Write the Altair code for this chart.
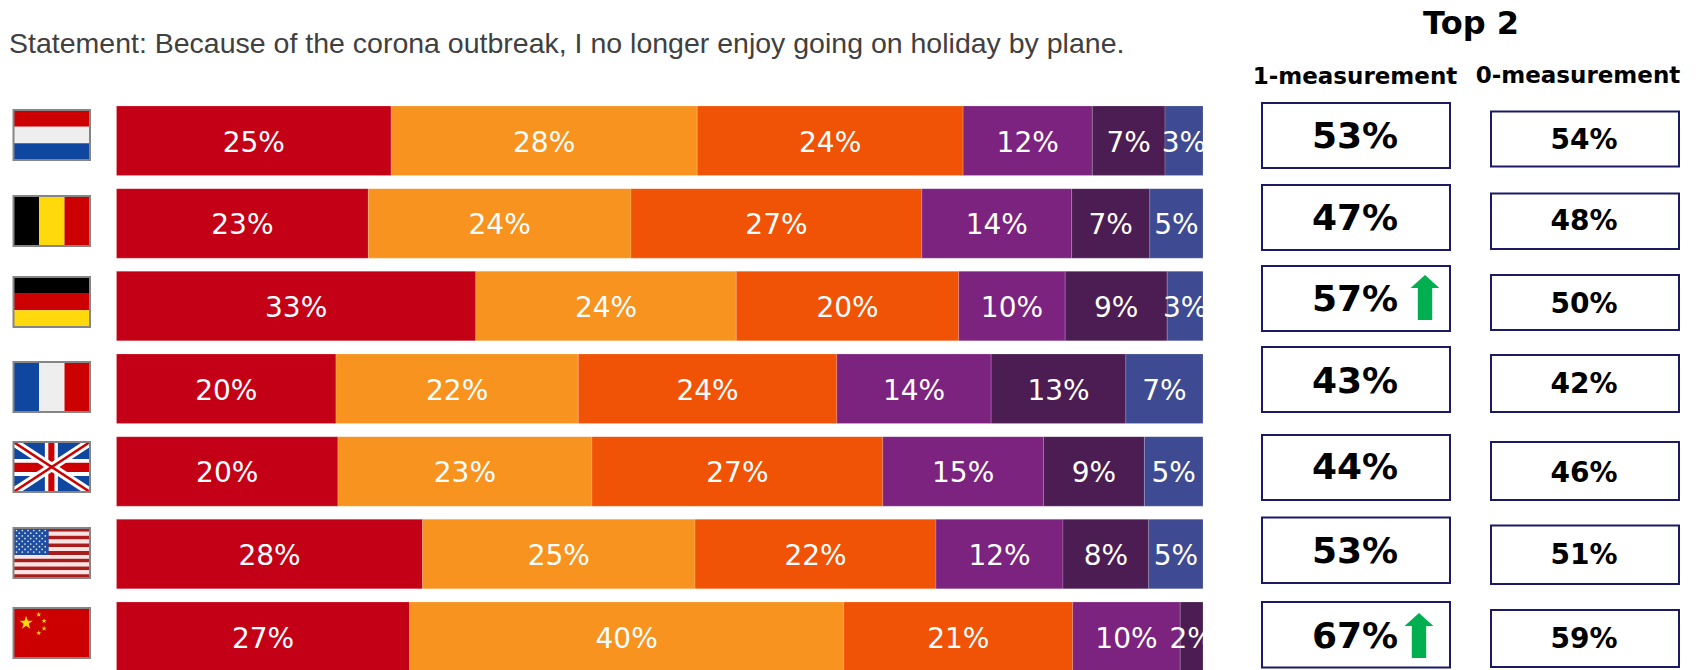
import altair as alt
import pandas as pd

# ---- data ----
countries = ["NL", "BE", "DE", "FR", "UK", "US", "CN"]
seg_colors = ["#C40016", "#F7931E", "#F15306", "#7B237F", "#4B1D52", "#3E4A92"]
shares = [
    [25.3, 28.2, 24.5, 11.9, 6.7, 3.5],
    [23.2, 24.2, 26.8, 13.8, 7.2, 4.9],
    [33.1, 24.0, 20.5, 9.8, 9.4, 3.3],
    [20.2, 22.3, 23.8, 14.2, 12.4, 7.1],
    [20.4, 23.4, 26.8, 14.8, 9.3, 5.4],
    [28.2, 25.1, 22.2, 11.7, 7.9, 5.0],
    [27.0, 40.0, 21.1, 9.9, 2.1],
]
labels = [
    ["25%", "28%", "24%", "12%", "7%", "3%"],
    ["23%", "24%", "27%", "14%", "7%", "5%"],
    ["33%", "24%", "20%", "10%", "9%", "3%"],
    ["20%", "22%", "24%", "14%", "13%", "7%"],
    ["20%", "23%", "27%", "15%", "9%", "5%"],
    ["28%", "25%", "22%", "12%", "8%", "5%"],
    ["27%", "40%", "21%", "10%", "2%"],
]
top2_now = ["53%", "47%", "57%", "43%", "44%", "53%", "67%"]
top2_base = ["54%", "48%", "50%", "42%", "46%", "51%", "59%"]
arrows = ["DE", "CN"]
statement = "Statement: Because of the corona outbreak, I no longer enjoy going on holiday by plane."

# ---- layout (page pixels -> scale units) ----
BAR_L, BAR_R, BAR_T, PITCH, BAR_H = 116.5, 1203.0, 106.0, 82.67, 69.5
def ux(px): return (px - BAR_L) / (BAR_R - BAR_L) * 100
def uy(px): return (px - BAR_T) / PITCH

box1_y = [(103, 168), (185, 250), (266, 331), (347, 412), (435, 500), (517.5, 583), (602, 667.5)]
box0_y = [(111.5, 166.5), (193.5, 249), (275, 330), (355, 412), (442, 500), (525.5, 584), (610, 667)]
text1_y = [137, 219, 299.5, 382, 468, 551.5, 637]
text0_y = [140.5, 221.5, 305, 385, 473.5, 556, 640]
flag_y = [110, 196, 277, 362, 442, 528, 608]
FLAG_L, FLAG_W, FLAG_H = 13.5, 76.5, 50.0

x_scale = alt.Scale(domain=[0, 100], range=[BAR_L - 8, BAR_R - 8])
y_scale = alt.Scale(domain=[0, 7], range=[BAR_T - 8, BAR_T - 8 + 7 * PITCH])
X = lambda f: alt.X(f + ":Q", scale=x_scale, axis=None)
Y = lambda f: alt.Y(f + ":Q", scale=y_scale, axis=None)
COL = alt.Color("c:N", scale=None)

# ---- stacked bars ----
seg_rows, txt_rows = [], []
for i, (vals, labs) in enumerate(zip(shares, labels)):
    total, acc = sum(vals), 0.0
    for j, (v, lab) in enumerate(zip(vals, labs)):
        a, b = acc / total * 100, (acc + v) / total * 100
        seg_rows.append(dict(x0=a, x1=b, y0=i, y1=i + BAR_H / PITCH, c=seg_colors[j]))
        txt_rows.append(dict(x=(a + b) / 2, y=uy(BAR_T + i * PITCH + BAR_H / 2 + 3), t=lab))
        acc += v

bars = alt.Chart(pd.DataFrame(seg_rows)).mark_rect(stroke="#FFFFFF", strokeOpacity=0.25, strokeWidth=0.7).encode(
    x=X("x0"), x2="x1:Q", y=Y("y0"), y2="y1:Q", color=COL)
bar_text = alt.Chart(pd.DataFrame(txt_rows)).mark_text(
    font="DejaVu Sans", fontSize=28, color="#FFFFFF", align="center", baseline="middle"
).encode(x=X("x"), y=Y("y"), text="t:N")
# white strip hides the label overhang past the end of the bars, as in the reference
mask = alt.Chart(pd.DataFrame([dict(x0=100, x1=ux(BAR_R + 25), y0=0, y1=7)])).mark_rect(color="#FFFFFF").encode(
    x=X("x0"), x2="x1:Q", y=Y("y0"), y2="y1:Q")

# ---- value boxes ----
box_rows, val_rows = [], []
for i in range(7):
    box_rows.append(dict(x0=ux(1262), x1=ux(1450), y0=uy(box1_y[i][0]), y1=uy(box1_y[i][1])))
    box_rows.append(dict(x0=ux(1491), x1=ux(1679), y0=uy(box0_y[i][0]), y1=uy(box0_y[i][1])))
    val_rows.append(dict(x=ux(1355), y=uy(text1_y[i]), t=top2_now[i], s=36))
    val_rows.append(dict(x=ux(1584), y=uy(text0_y[i]), t=top2_base[i], s=28))
boxes = alt.Chart(pd.DataFrame(box_rows)).mark_rect(fill="#FFFFFF", stroke="#1C1A66", strokeWidth=2).encode(
    x=X("x0"), x2="x1:Q", y=Y("y0"), y2="y1:Q")
values = alt.Chart(pd.DataFrame(val_rows)).mark_text(
    font="DejaVu Sans", fontWeight="bold", color="#000000", align="center", baseline="middle"
).encode(x=X("x"), y=Y("y"), text="t:N", size=alt.Size("s:Q", scale=None))

ARROW = "M0,-1 L0.64,-0.42 L0.32,-0.42 L0.32,1 L-0.32,1 L-0.32,-0.42 L-0.64,-0.42 Z"
arrow_pos = {"DE": (1425, 297.5), "CN": (1419, 635.5)}
arrow_df = pd.DataFrame([dict(x=ux(arrow_pos[k][0]), y=uy(arrow_pos[k][1])) for k in arrows])
arrow_marks = alt.Chart(arrow_df).mark_point(shape=ARROW, filled=True, color="#00B050", opacity=1, size=2025).encode(
    x=X("x"), y=Y("y"))

# ---- headings ----
head_rows = [
    dict(x=ux(1471), y=uy(24), t="Top 2", s=32),
    dict(x=ux(1355), y=uy(77), t="1-measurement", s=23),
    dict(x=ux(1578), y=uy(76), t="0-measurement", s=23),
]
heads = alt.Chart(pd.DataFrame(head_rows)).mark_text(
    font="DejaVu Sans", fontWeight="bold", color="#000000", align="center", baseline="middle"
).encode(x=X("x"), y=Y("y"), text="t:N", size=alt.Size("s:Q", scale=None))
title = alt.Chart(pd.DataFrame([dict(x=ux(9), y=uy(44), t=statement)])).mark_text(
    font="Liberation Sans", fontSize=28.5, color="#404040", align="left", baseline="middle"
).encode(x=X("x"), y=Y("y"), text="t:N")

# ---- flags, drawn in flag units (0..1 across and down) ----
RED, WHITE, BLUE, BLACK, GOLD = "#CC0000", "#EEEEEE", "#0F47A0", "#000000", "#FFD90C"
rects, areas, points = [], [], []
def fx(f): return ux(FLAG_L + f * FLAG_W)
def fy(i, f): return uy(flag_y[i] + f * FLAG_H)
def stripe(i, a, b, c, d, col):
    rects.append(dict(x0=fx(a), x1=fx(b), y0=fy(i, c), y1=fy(i, d), c=col))

for k, col in enumerate([RED, WHITE, BLUE]):
    stripe(0, 0, 1, k / 3, (k + 1) / 3, col)
for k, col in enumerate([BLACK, GOLD, RED]):
    stripe(1, k / 3, (k + 1) / 3, 0, 1, col)
for k, col in enumerate([BLACK, RED, GOLD]):
    stripe(2, 0, 1, k / 3, (k + 1) / 3, col)
for k, col in enumerate([BLUE, WHITE, RED]):
    stripe(3, k / 3, (k + 1) / 3, 0, 1, col)

# UK
stripe(4, 0, 1, 0, 1, BLUE)
def band(i, t, col, rising, bid):
    # diagonal band clipped to the flag, half-thickness t in flag-height units
    xs = sorted({0.0, t, 1 - t, 1.0})
    for f in xs:
        lo, hi = max(f - t, 0), min(f + t, 1)
        if rising:
            lo, hi = 1 - hi, 1 - lo
        areas.append(dict(x=fx(f), y0=fy(i, lo), y1=fy(i, hi), c=col, b=bid))
band(4, 0.10, "#FFFFFF", False, "w1")
band(4, 0.10, "#FFFFFF", True, "w2")
band(4, 0.03, RED, False, "r1")
band(4, 0.03, RED, True, "r2")
stripe(4, 0.41, 0.58, 0, 1, "#FFFFFF")
stripe(4, 0, 1, 0.34, 0.68, "#FFFFFF")
stripe(4, 0.455, 0.535, 0, 1, RED)
stripe(4, 0, 1, 0.415, 0.60, RED)

# US
for k in range(13):
    stripe(5, 0, 1, k / 13, (k + 1) / 13, "#A81C1C" if k % 2 == 0 else "#FBE3E3")
stripe(5, 0, 0.46, 0, 7 / 13, "#1F4E9E")
for r in range(9):
    n = 6 if r % 2 == 0 else 5
    off = 0.04 if r % 2 == 0 else 0.075
    for c in range(n):
        points.append(dict(x=fx(off + c * 0.075), y=fy(5, 0.05 + r * 0.054), s=3, c="#D8E4F5"))

# China
stripe(6, 0, 1, 0, 1, RED)

flag_rects = alt.Chart(pd.DataFrame(rects)).mark_rect().encode(x=X("x0"), x2="x1:Q", y=Y("y0"), y2="y1:Q", color=COL)
flag_areas = alt.Chart(pd.DataFrame(areas)).mark_area(opacity=1).encode(
    x=X("x"), y=Y("y0"), y2="y1:Q", color=COL, detail="b:N")
dots = alt.Chart(pd.DataFrame(points)).mark_circle(opacity=1).encode(
    x=X("x"), y=Y("y"), size=alt.Size("s:Q", scale=None), color=COL)
STAR = ("M0,-1 L0.235,-0.309 L0.951,-0.309 L0.363,0.118 L0.588,0.809 L0,0.382 "
        "L-0.588,0.809 L-0.363,0.118 L-0.951,-0.309 L-0.235,-0.309 Z")
star_rows = [
    dict(x=fx(0.165), y=fy(6, 0.30), s=196),
    dict(x=fx(0.33), y=fy(6, 0.13), s=30),
    dict(x=fx(0.40), y=fy(6, 0.26), s=30),
    dict(x=fx(0.40), y=fy(6, 0.41), s=30),
    dict(x=fx(0.33), y=fy(6, 0.50), s=30),
]
stars = alt.Chart(pd.DataFrame(star_rows)).mark_point(shape=STAR, filled=True, color=GOLD, opacity=1).encode(
    x=X("x"), y=Y("y"), size=alt.Size("s:Q", scale=None))
frames = alt.Chart(pd.DataFrame([
    dict(x0=fx(0), x1=fx(1), y0=fy(i, 0), y1=fy(i, 1)) for i in range(7)
])).mark_rect(fill="transparent", stroke="#858585", strokeWidth=2).encode(
    x=X("x0"), x2="x1:Q", y=Y("y0"), y2="y1:Q")

chart = alt.layer(
    bars, bar_text, mask, boxes, values, arrow_marks, heads, title,
    flag_rects, flag_areas, dots, stars, frames,
).properties(
    width=1680, height=662, padding=0,
    autosize=alt.AutoSizeParams(type="none", contains="padding"),
).configure_view(stroke=None)

chart.save("out.html", embed_options={"renderer": "svg", "actions": False})
